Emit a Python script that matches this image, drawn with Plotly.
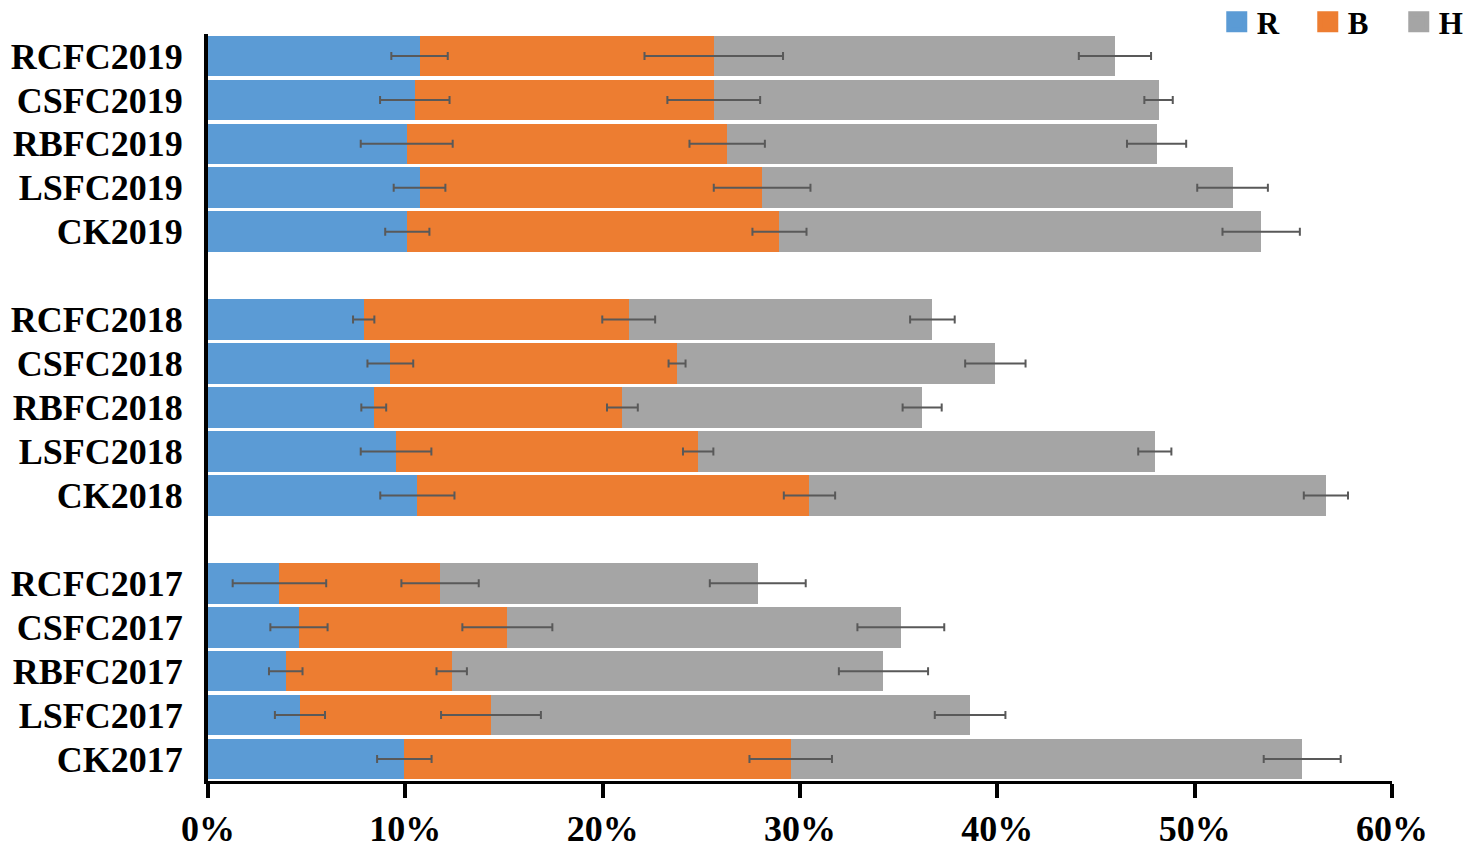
import plotly.graph_objects as go

# Rows top to bottom; whitespace placeholders are the blank separator rows between years
categories = ["RCFC2019", "CSFC2019", "RBFC2019", "LSFC2019", "CK2019", " ",
              "RCFC2018", "CSFC2018", "RBFC2018", "LSFC2018", "CK2018", "  ",
              "RCFC2017", "CSFC2017", "RBFC2017", "LSFC2017", "CK2017"]

# Segment values (%), None for separator rows
R_vals = [10.72, 10.48, 10.07, 10.72, 10.10, None,
          7.89, 9.24, 8.40, 9.53, 10.61, None,
          3.62, 4.61, 3.94, 4.66, 9.95]
B_vals = [14.91, 15.15, 16.24, 17.36, 18.86, None,
          13.43, 14.53, 12.60, 15.31, 19.87, None,
          8.14, 10.56, 8.41, 9.68, 19.58]
H_vals = [20.33, 22.54, 21.76, 23.84, 24.41, None,
          15.39, 16.13, 15.19, 23.14, 26.17, None,
          16.10, 19.94, 21.88, 24.28, 25.92]

# Error (±, %)
R_err = [1.43, 1.76, 2.33, 1.31, 1.12, None,
         0.54, 1.16, 0.63, 1.79, 1.88, None,
         2.37, 1.45, 0.85, 1.27, 1.38]
B_err = [3.51, 2.35, 1.91, 2.45, 1.37, None,
         1.34, 0.43, 0.78, 0.77, 1.30, None,
         1.96, 2.28, 0.77, 2.53, 2.09]
H_err = [1.83, 0.72, 1.50, 1.79, 1.96, None,
         1.13, 1.53, 0.99, 0.84, 1.12, None,
         2.43, 2.20, 2.26, 1.79, 1.95]

x_ticks = [0, 10, 20, 30, 40, 50, 60]

series = [("R", R_vals, R_err, "#5B9BD5"),
          ("B", B_vals, B_err, "#ED7D31"),
          ("H", H_vals, H_err, "#A5A5A5")]

FONT = "Liberation Serif, Times New Roman, serif"

fig = go.Figure()

# Stacked bars
for name, vals, errs, color in series:
    fig.add_trace(go.Bar(
        name=name, y=categories, x=vals, orientation="h",
        marker=dict(color=color, line=dict(width=0)),
        showlegend=False,
    ))

# Error bars at the cumulative end of each segment, drawn above all bars
running = [0.0 if v is not None else None for v in R_vals]
for name, vals, errs, color in series:
    running = [None if (r is None or v is None) else r + v for r, v in zip(running, vals)]
    fig.add_trace(go.Scatter(
        x=running, y=categories, mode="markers",
        marker=dict(opacity=0, size=1),
        error_x=dict(type="data", array=errs, visible=True,
                     color="#595959", thickness=2, width=4),
        showlegend=False, hoverinfo="skip",
    ))

# Legend entries (large square swatches)
for name, vals, errs, color in series:
    fig.add_trace(go.Scatter(
        name=name, x=[None], y=[None], mode="markers",
        marker=dict(symbol="square", size=16, color=color,
                    line=dict(color=color, width=5)),
        showlegend=True,
    ))

fig.update_layout(
    barmode="stack",
    bargap=0.075,
    width=1476, height=848,
    margin=dict(l=208, r=84, t=34, b=67, autoexpand=False),
    paper_bgcolor="white", plot_bgcolor="white",
    font=dict(family=FONT, color="black"),
    legend=dict(orientation="h", x=0.852, xanchor="left", y=1.016, yanchor="middle",
                font=dict(family=FONT, size=31, weight="bold", color="black"),
                traceorder="normal", bgcolor="rgba(0,0,0,0)",
                entrywidth=46, itemsizing="trace"),
    showlegend=True,
)
fig.update_xaxes(
    range=[0, 60], tickvals=x_ticks, ticktext=[f"{v}%" for v in x_ticks],
    showgrid=False, zeroline=False,
    showline=True, linecolor="black", linewidth=3,
    ticks="outside", ticklen=14, tickwidth=4, tickcolor="black",
    tickfont=dict(family=FONT, size=36, weight="bold", color="black"),
)
fig.update_yaxes(
    categoryorder="array", categoryarray=categories,
    range=[len(categories) - 0.5, -0.5], autorange=False,
    tickmode="array", tickvals=categories, ticktext=categories,
    showgrid=False, zeroline=False,
    showline=True, linecolor="black", linewidth=4,
    ticks="", ticklabelstandoff=14,
    tickfont=dict(family=FONT, size=36, weight="bold", color="black"),
)

fig.write_html("out.html", config={"displayModeBar": False},
               post_script="document.body.style.margin='0';")
